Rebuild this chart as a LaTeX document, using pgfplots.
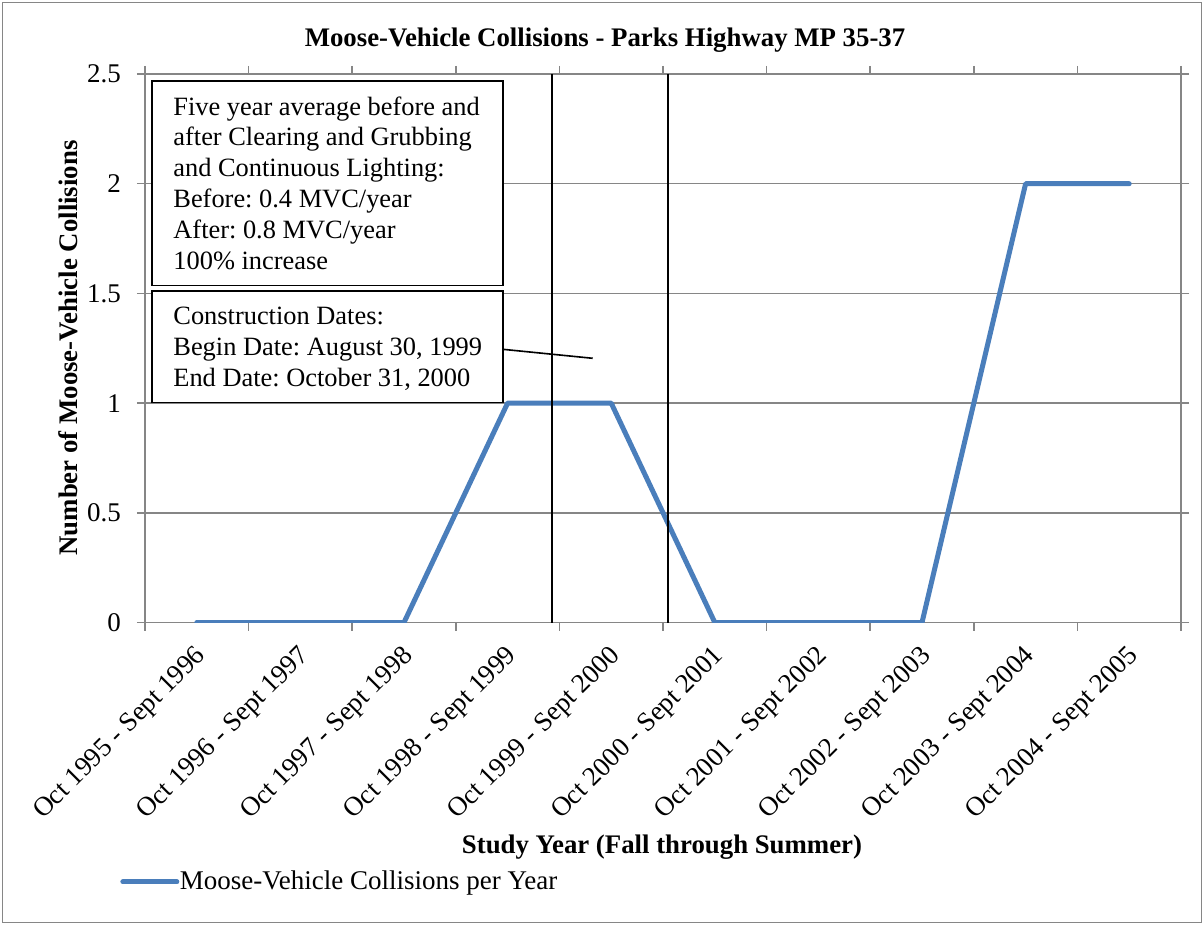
\documentclass[border=0pt]{standalone}
\usepackage{fontspec}
\setmainfont{Liberation Serif}
\usepackage{pgfplots}
\pgfplotsset{compat=1.18}
\definecolor{mvcblue}{HTML}{4A7EBB}
\definecolor{axgray}{HTML}{868686}
\newcommand\tickfont{\fontsize{13.5}{16}\selectfont}
\newcommand\labfont{\fontsize{13.4}{16}\selectfont\bfseries}
\newcommand\boxfont{\fontsize{13.2}{15.4}\selectfont}
\frenchspacing
\begin{document}
\begin{tikzpicture}
\begin{axis}[
  scale only axis,
  width=518pt, height=274.25pt,
  xmin=-0.5, xmax=9.5,
  ymin=0, ymax=2.5,
  ytick={0,0.5,...,2.5},
  xtick={0,...,9},
  xticklabels={Oct 1995 - Sept 1996, Oct 1996 - Sept 1997, Oct 1997 - Sept 1998,
    Oct 1998 - Sept 1999, Oct 1999 - Sept 2000, Oct 2000 - Sept 2001,
    Oct 2001 - Sept 2002, Oct 2002 - Sept 2003, Oct 2003 - Sept 2004,
    Oct 2004 - Sept 2005},
  xtick style={draw=none},
  extra x ticks={-0.5,0.5,...,9.5},
  extra x tick labels={},
  extra x tick style={xtick style={draw=axgray, line width=0.75pt}},
  ytick style={draw=axgray, line width=0.75pt},
  tick align=outside,
  major tick length=4pt,
  ymajorgrids,
  grid style={axgray, line width=0.75pt},
  axis line style={axgray, line width=0.75pt},
  tick label style={font=\tickfont},
  /pgf/number format/assume math mode=true,
  xticklabel style={yshift=-5pt, xshift=-1.5pt, rotate=45, anchor=north east, inner sep=1pt},
  yticklabel style={xshift=-4.5pt},
  legend style={at={(axis description cs:-0.0242,-0.473)}, anchor=west,
    draw=none, fill=none, font=\tickfont, inner sep=0pt,
    nodes={inner xsep=0.3pt, inner ysep=1pt}},
  legend image code/.code={\draw[#1] (0pt,0pt) -- (27pt,0pt);},
]
\addplot[mvcblue, line width=2.5pt, line cap=round, line join=round] coordinates {
  (0,0) (1,0) (2,0) (3,1) (4,1) (5,0) (6,0) (7,0) (8,2) (9,2)
};
\addlegendentry{Moose-Vehicle Collisions per Year}
% construction begin / end
\addplot[black, line width=0.8pt, forget plot] coordinates {(3.426,0) (3.426,2.5)};
\addplot[black, line width=0.8pt, forget plot] coordinates {(4.551,0) (4.551,2.5)};
\end{axis}
\begin{scope}[x=0.5pt, y=0.5pt]
  \useasboundingbox (-145,-302.5) rectangle (1059,622.5);
  \draw[axgray, line width=0.75pt] (-142.5,-300) rectangle (1056.5,620);
  \node[font=\labfont] at (460,582.5) {Moose-Vehicle Collisions - Parks Highway MP 35-37};
  \node[font=\labfont, rotate=90] at (-77,274.5) {Number of Moose-Vehicle Collisions};
  \node[font=\labfont] at (517,-224.5) {Study Year (Fall through Summer)};
  % text boxes
  \draw[black, line width=0.8pt, fill=white] (6.7,541.5) rectangle (357.7,336.8);
  \node[anchor=west, font=\boxfont, align=left, inner sep=0pt] at (28,439.5)
    {Five year average before and\\after Clearing and Grubbing\\and Continuous Lighting:\\Before: 0.4 MVC/year\\After: 0.8 MVC/year\\100\% increase};
  \draw[black, line width=0.8pt, fill=white] (6.7,331.5) rectangle (357.7,219.8);
  \node[anchor=west, font=\boxfont, align=left, inner sep=0pt] at (28,273.5)
    {Construction Dates:\\Begin Date: August 30, 1999\\End Date: October 31, 2000};
  \draw[black, line width=0.8pt] (357.7,273.2) -- (447.7,264.2);
\end{scope}
\end{tikzpicture}
\end{document}
